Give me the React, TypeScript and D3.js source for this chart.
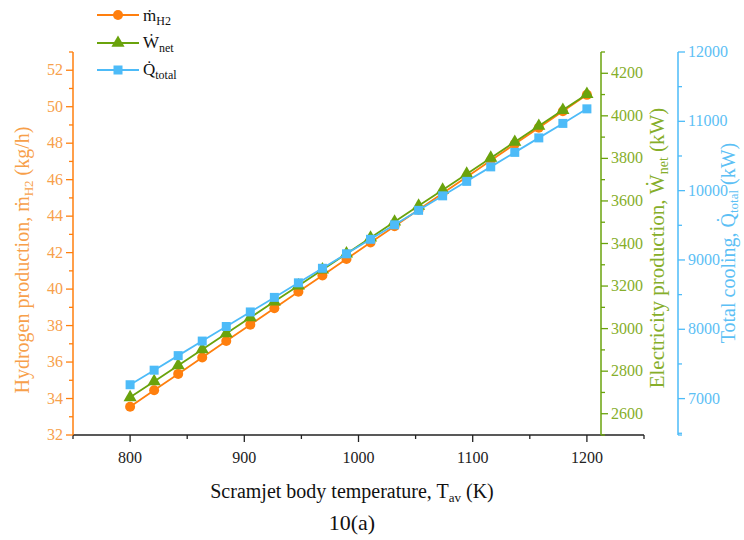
import React from "react";
import * as d3 from "d3";

const temps = [800, 821.05, 842.1, 863.16, 884.21, 905.26, 926.32, 947.37, 968.42, 989.47, 1010.53, 1031.58, 1052.63, 1073.68, 1094.74, 1115.79, 1136.84, 1157.89, 1178.95, 1200];
const mH2 = [33.55, 34.45, 35.35, 36.25, 37.15, 38.05, 38.95, 39.85, 40.75, 41.65, 42.55, 43.45, 44.35, 45.25, 46.15, 47.05, 47.95, 48.85, 49.75, 50.65];
const wNet = [2677, 2752, 2827, 2902, 2977, 3052, 3127, 3202, 3277, 3352, 3427, 3502, 3577, 3652, 3727, 3802, 3877, 3952, 4027, 4102];
const qTotal = [7200, 7410, 7620, 7830, 8040, 8250, 8460, 8670, 8880, 9089, 9298, 9507, 9716, 9925, 10134, 10343, 10552, 10761, 10970, 11180];

const xTicks = [800, 900, 1000, 1100, 1200];
const leftTicks = [32, 34, 36, 38, 40, 42, 44, 46, 48, 50, 52];
const greenTicks = [2600, 2800, 3000, 3200, 3400, 3600, 3800, 4000, 4200];
const blueTicks = [7000, 8000, 9000, 10000, 11000, 12000];

const ORANGE = "#FF7F0E";
const ORANGE_T = "#F7A04A";
const GREEN = "#6AA30C";
const GREEN_T = "#86AE2A";
const BLUE = "#4DBBF8";
const BLUE_T = "#5CC0F5";
const FONT = '"Times New Roman", "Liberation Serif", serif';

const TOP = 52;
const BOTTOM = 435;
const LEFT = 73;
const RIGHT = 644;
const GREEN_X = 601;
const BLUE_X = 678;

export default function App() {
  const x = d3.scaleLinear().domain([750, 1250]).range([LEFT, RIGHT]);
  const yL = d3.scaleLinear().domain([32, 53]).range([BOTTOM, TOP]);
  const yG = d3.scaleLinear().domain([2500, 4300]).range([BOTTOM, TOP]);
  const yB = d3.scaleLinear().domain([6475, 12000]).range([BOTTOM, TOP]);

  const lineOf = (vals: number[], y: d3.ScaleLinear<number, number>) =>
    d3.line<number>().x((_, i) => x(temps[i])).y((v) => y(v))(vals) || "";

  const xMinor = d3.range(750, 1251, 50);
  const lMinor = d3.range(32, 53.01, 1);
  const gMinor = d3.range(2500, 4300.1, 100);
  const bMinor = d3.range(6500, 12000.1, 500);

  const tri = d3.symbol().type(d3.symbolTriangle).size(75)() || "";

  return (
    <svg width={744} height={540} style={{ position: "absolute", left: 0, top: 0, background: "#fff", fontFamily: FONT }}>
      {/* X axis */}
      <line x1={LEFT} x2={RIGHT} y1={BOTTOM} y2={BOTTOM} stroke="#222" strokeWidth={1.5} />
      {xMinor.map((t) => (
        <line key={"xm" + t} x1={x(t)} x2={x(t)} y1={BOTTOM} y2={BOTTOM + (t % 100 === 0 ? 7 : 4)} stroke="#222" strokeWidth={1.3} />
      ))}
      {xTicks.map((t) => (
        <text key={"xt" + t} x={x(t)} y={BOTTOM + 28} textAnchor="middle" fontSize={16} fill="#222">{t}</text>
      ))}
      <text x={352} y={498} textAnchor="middle" fontSize={20} fill="#111">
        Scramjet body temperature, T<tspan dy={4} fontSize={13}>av</tspan><tspan dy={-4}> (K)</tspan>
      </text>
      <text x={352} y={530} textAnchor="middle" fontSize={22} fill="#111">10(a)</text>

      {/* Left axis */}
      <line x1={LEFT} x2={LEFT} y1={TOP} y2={BOTTOM} stroke={ORANGE} strokeWidth={1.5} />
      {lMinor.map((t) => (
        <line key={"lm" + t} x1={LEFT} x2={LEFT - (t % 2 === 0 ? 7 : 4)} y1={yL(t)} y2={yL(t)} stroke={ORANGE} strokeWidth={1.3} />
      ))}
      {leftTicks.map((t) => (
        <text key={"lt" + t} x={LEFT - 10} y={yL(t) + 5} textAnchor="end" fontSize={16} fill={ORANGE_T}>{t}</text>
      ))}
      <text transform={`translate(29,${260}) rotate(-90)`} textAnchor="middle" fontSize={20} fill={ORANGE_T}>
        Hydrogen production, ṁ<tspan dy={4} fontSize={13}>H2</tspan><tspan dy={-4}> (kg/h)</tspan>
      </text>

      {/* Green axis */}
      <line x1={GREEN_X} x2={GREEN_X} y1={TOP} y2={BOTTOM} stroke={GREEN} strokeWidth={1.5} />
      {gMinor.map((t) => (
        <line key={"gm" + t} x1={GREEN_X} x2={GREEN_X + (t % 200 === 0 ? 7 : 4)} y1={yG(t)} y2={yG(t)} stroke={GREEN} strokeWidth={1.3} />
      ))}
      {greenTicks.map((t) => (
        <text key={"gt" + t} x={GREEN_X + 10} y={yG(t) + 5} textAnchor="start" fontSize={16} fill={GREEN_T}>{t}</text>
      ))}
      <text transform={`translate(664,${248}) rotate(-90)`} textAnchor="middle" fontSize={21} fill={GREEN_T}>
        Electricity production, Ẇ<tspan dy={4} fontSize={14}>net</tspan><tspan dy={-4}> (kW)</tspan>
      </text>

      {/* Blue axis */}
      <line x1={BLUE_X} x2={BLUE_X} y1={TOP} y2={BOTTOM} stroke={BLUE} strokeWidth={1.5} />
      {bMinor.map((t) => (
        <line key={"bm" + t} x1={BLUE_X} x2={BLUE_X + (t % 1000 === 0 ? 7 : 4)} y1={yB(t)} y2={yB(t)} stroke={BLUE} strokeWidth={1.3} />
      ))}
      <line x1={BLUE_X} x2={BLUE_X + 4} y1={BOTTOM} y2={BOTTOM} stroke={BLUE} strokeWidth={1.3} />
      {blueTicks.map((t) => (
        <text key={"bt" + t} x={BLUE_X + 10} y={yB(t) + 5} textAnchor="start" fontSize={16} fill={BLUE_T}>{t}</text>
      ))}
      <text transform={`translate(735,${243}) rotate(-90)`} textAnchor="middle" fontSize={20} fill={BLUE_T}>
        Total cooling, Q̇<tspan dy={3} fontSize={13}>total</tspan><tspan dy={-3}> (kW)</tspan>
      </text>

      {/* Series */}
      <path d={lineOf(mH2, yL)} fill="none" stroke={ORANGE} strokeWidth={1.8} />
      {mH2.map((v, i) => (
        <circle key={"o" + i} cx={x(temps[i])} cy={yL(v)} r={5} fill={ORANGE} />
      ))}
      <path d={lineOf(wNet, yG)} fill="none" stroke={GREEN} strokeWidth={1.8} />
      {wNet.map((v, i) => (
        <path key={"g" + i} d={tri} transform={`translate(${x(temps[i])},${yG(v)})`} fill={GREEN} />
      ))}
      <path d={lineOf(qTotal, yB)} fill="none" stroke={BLUE} strokeWidth={1.8} />
      {qTotal.map((v, i) => (
        <rect key={"b" + i} x={x(temps[i]) - 4.5} y={yB(v) - 4.5} width={9} height={9} fill={BLUE} />
      ))}

      {/* Legend */}
      <g>
        <line x1={97} x2={139} y1={15} y2={15} stroke={ORANGE} strokeWidth={1.8} />
        <circle cx={118} cy={15} r={5} fill={ORANGE} />
        <text x={143} y={21} fontSize={17} fill="#111">ṁ<tspan dy={4} fontSize={12}>H2</tspan></text>
        <line x1={97} x2={139} y1={43} y2={43} stroke={GREEN} strokeWidth={1.8} />
        <path d={tri} transform="translate(118,43)" fill={GREEN} />
        <text x={143} y={48} fontSize={17} fill="#111">Ẇ<tspan dy={4} fontSize={12}>net</tspan></text>
        <line x1={97} x2={139} y1={70} y2={70} stroke={BLUE} strokeWidth={1.8} />
        <rect x={113.5} y={65.5} width={9} height={9} fill={BLUE} />
        <text x={143} y={75} fontSize={17} fill="#111">Q̇<tspan dy={4} fontSize={12}>total</tspan></text>
      </g>
    </svg>
  );
}
